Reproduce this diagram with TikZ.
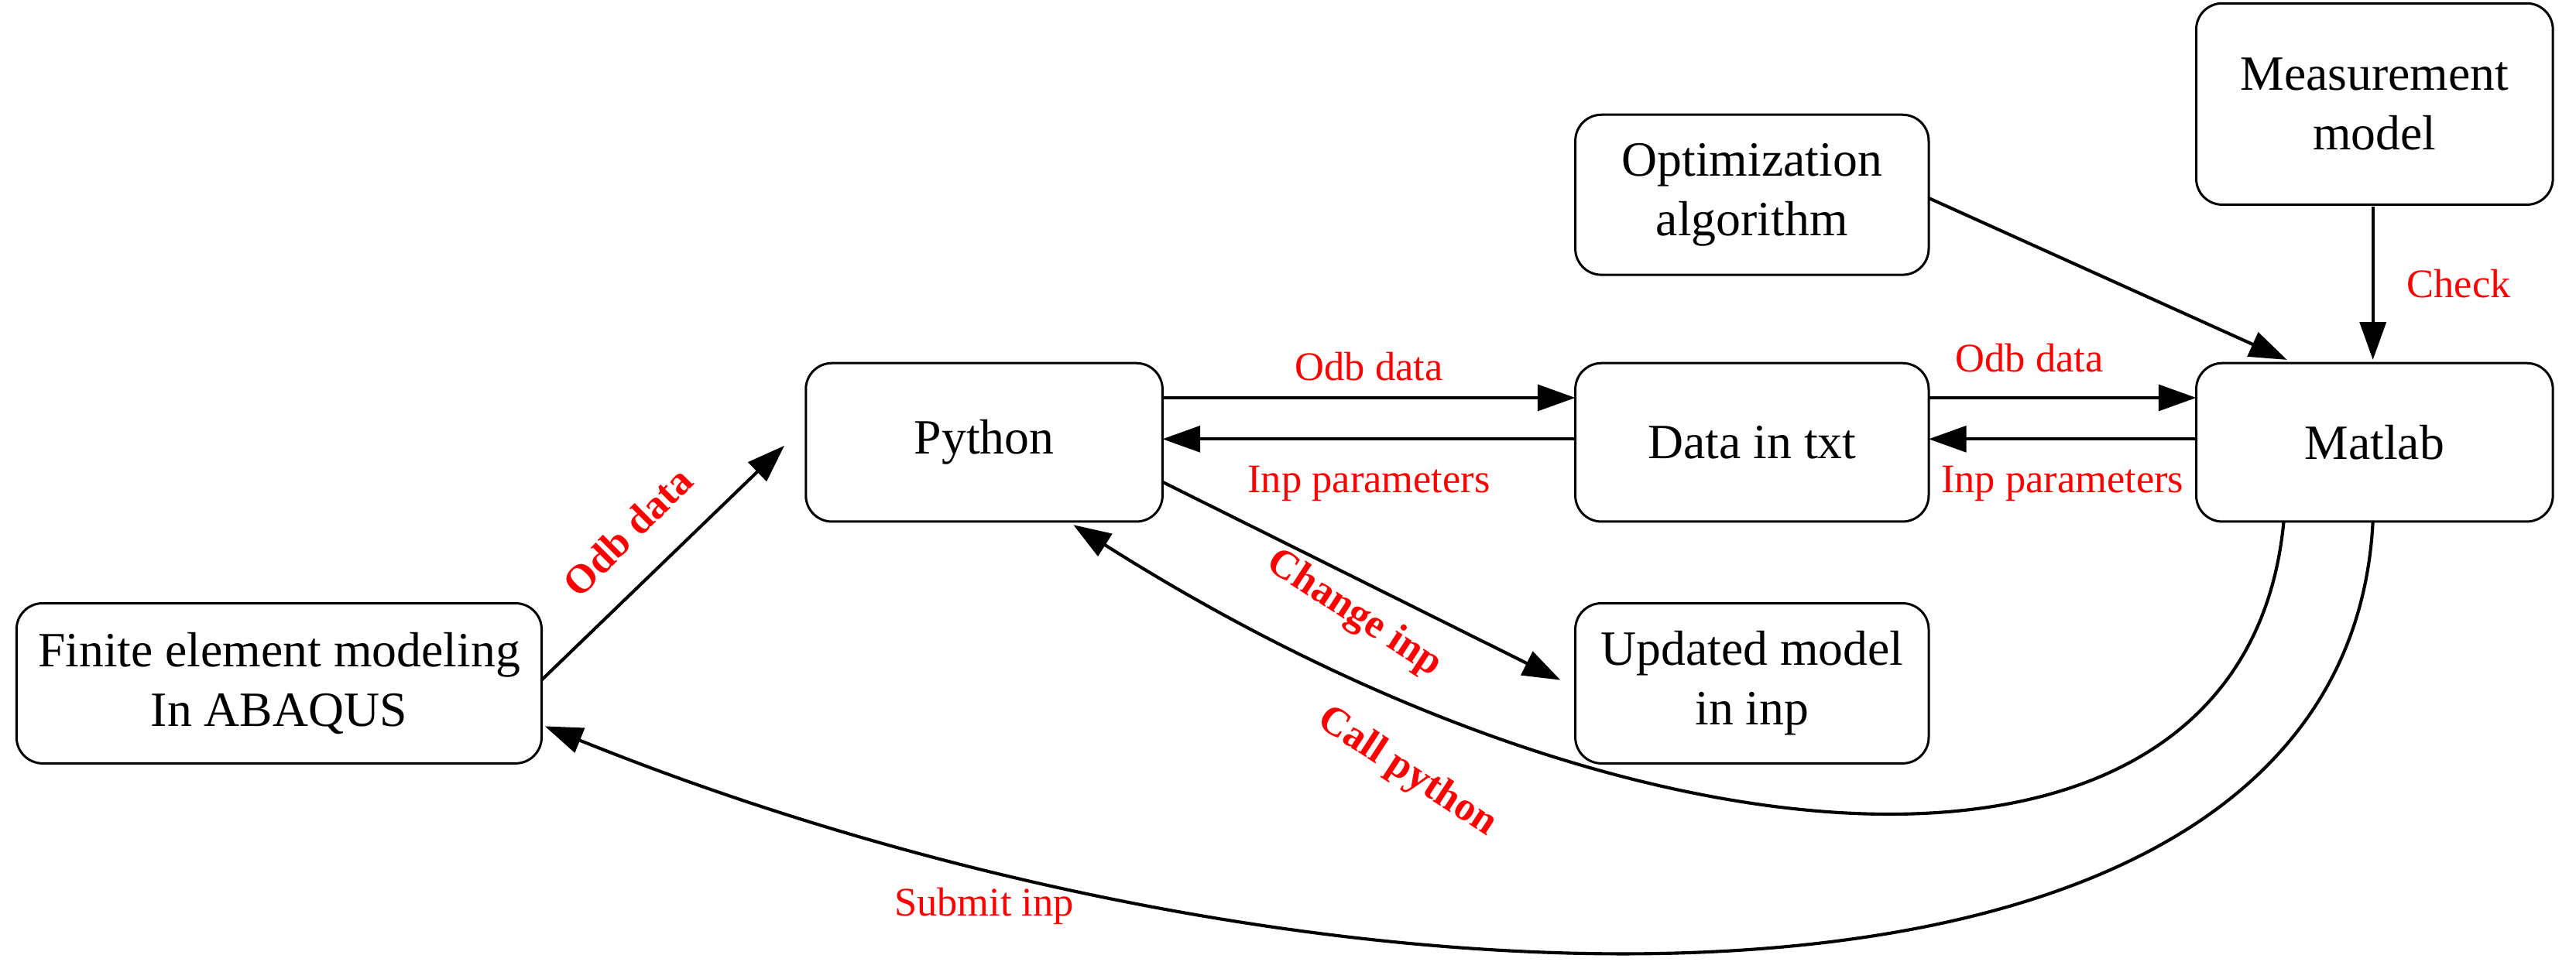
\documentclass[tikz,border=0pt]{standalone}
\usepackage{fontspec}
\setmainfont{Liberation Serif}
\usetikzlibrary{arrows.meta}
\begin{document}
\begin{tikzpicture}[x=0.02cm,y=-0.02cm,
 box/.style={draw,rounded corners=9pt,line width=0.8pt,align=center,font=\fontsize{17}{20.5}\selectfont,inner sep=0pt},
 ar/.style={-{Triangle[length=13pt,width=9pt]},line width=1.1pt},
 lb/.style={text=red,font=\fontsize{14}{16}\selectfont},
 lbb/.style={text=red,font=\bfseries\fontsize{14}{16}\selectfont}]
\useasboundingbox (0,0) rectangle (1560,593);
\node[box,minimum width=318*0.02cm,minimum height=97*0.02cm] (fe) at (169,414) {Finite element modeling\\In ABAQUS};
\node[box,minimum width=216*0.02cm,minimum height=96*0.02cm] (py) at (596,268) {Python};
\node[box,minimum width=214*0.02cm,minimum height=96*0.02cm] (dt) at (1061,268) {Data in txt};
\node[box,minimum width=216*0.02cm,minimum height=96*0.02cm] (ml) at (1438,268) {Matlab};
\node[box,minimum width=214*0.02cm,minimum height=97*0.02cm] (op) at (1061,118) {Optimization\\algorithm};
\node[box,minimum width=216*0.02cm,minimum height=122*0.02cm] (me) at (1438,63) {Measurement\\model};
\node[box,minimum width=214*0.02cm,minimum height=97*0.02cm] (up) at (1061,414) {Updated model\\in inp};
\coordinate (fe1) at (328,412); \coordinate (py1) at (475,270);
\draw[ar] (fe1) -- (py1);
\draw[ar] (704,241) -- (954,241);
\draw[ar] (954,266) -- (704,266);
\draw[ar] (1168,241) -- (1330,241);
\draw[ar] (1330,266) -- (1168,266);
\draw[ar] (1168,120) -- (1385,218);
\draw[ar] (1437,125) -- (1437,218);
\draw[ar] (704,292) -- (945,412);
\draw[ar] (1383,316) .. controls (1360,560) and (1000,540) .. (650,318);
\draw[ar] (1437,316) .. controls (1420,650) and (800,630) .. (330,440);
\node[lb] (l1) at (829,222) {Odb data};
\node[lb] (l2) at (829,293) {Inp parameters};
\node[lb] (l3) at (1229,217) {Odb data};
\node[lb] (l4) at (1249,293) {Inp parameters};
\node[lb] (l5) at (1489,172) {Check};
\node[lb] (l6) at (596,549) {Submit inp};
\node[lbb,rotate=45] (l7) at (380,322) {Odb data};
\node[lbb,rotate=-33] (l8) at (820,372) {Change inp};
\node[lbb,rotate=-33] (l9) at (852,468) {Call python};
\end{tikzpicture}
\end{document}
